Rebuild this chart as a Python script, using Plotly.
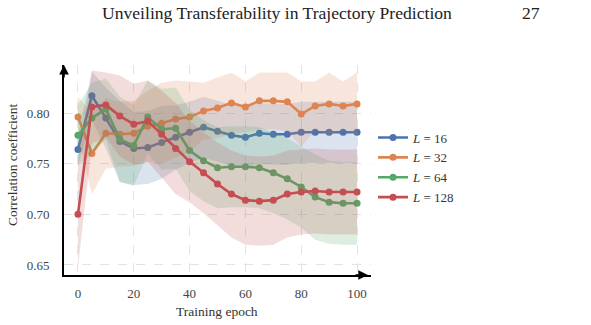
import plotly.graph_objects as go

epochs = [0, 5, 10, 15, 20, 25, 30, 35, 40, 45, 50, 55, 60, 65, 70, 75, 80, 85, 90, 95, 100]

l16 = [0.764, 0.817, 0.795, 0.772, 0.765, 0.766, 0.771, 0.776, 0.781, 0.786, 0.782, 0.778, 0.776, 0.780, 0.779, 0.779, 0.781, 0.781, 0.781, 0.781, 0.781]
l32 = [0.796, 0.760, 0.780, 0.779, 0.780, 0.787, 0.790, 0.794, 0.796, 0.802, 0.805, 0.810, 0.806, 0.812, 0.812, 0.811, 0.799, 0.807, 0.809, 0.807, 0.809]
l64 = [0.778, 0.795, 0.804, 0.774, 0.768, 0.796, 0.784, 0.785, 0.763, 0.753, 0.746, 0.747, 0.747, 0.746, 0.741, 0.735, 0.727, 0.717, 0.712, 0.711, 0.711]
l128 = [0.700, 0.806, 0.808, 0.797, 0.789, 0.792, 0.779, 0.765, 0.752, 0.741, 0.730, 0.720, 0.714, 0.713, 0.714, 0.720, 0.722, 0.723, 0.722, 0.722, 0.722]

sd16 = [0.015, 0.024, 0.030, 0.040, 0.036, 0.036, 0.036, 0.032, 0.030, 0.030, 0.030, 0.030, 0.030, 0.030, 0.030, 0.030, 0.030, 0.030, 0.030, 0.030, 0.030]
sd32 = [0.020, 0.040, 0.035, 0.032, 0.032, 0.035, 0.040, 0.038, 0.035, 0.028, 0.030, 0.030, 0.025, 0.028, 0.028, 0.029, 0.032, 0.024, 0.031, 0.024, 0.031]
sd64 = [0.030, 0.035, 0.030, 0.042, 0.040, 0.036, 0.040, 0.040, 0.040, 0.040, 0.040, 0.040, 0.040, 0.040, 0.040, 0.040, 0.040, 0.042, 0.041, 0.041, 0.041]
sd128 = [0.052, 0.036, 0.032, 0.040, 0.040, 0.040, 0.043, 0.045, 0.040, 0.040, 0.041, 0.043, 0.044, 0.044, 0.044, 0.043, 0.042, 0.042, 0.042, 0.042, 0.042]

labels = ["<i>L</i> = 16", "<i>L</i> = 32", "<i>L</i> = 64", "<i>L</i> = 128"]
colors = ["#4C72B0", "#DD8452", "#55A868", "#C44E52"]
fills = ["rgba(76,114,176,0.2)", "rgba(221,132,82,0.2)", "rgba(85,168,104,0.2)", "rgba(196,78,82,0.2)"]

x_ticks = [0, 20, 40, 60, 80, 100]
y_ticks = [0.65, 0.70, 0.75, 0.80]

FONT = "Liberation Serif"
L, R, T, B = 64, 220, 65, 50
PW, PH = 591 - L - R, 325 - T - B


def px(xp):
    return (xp - L) / PW


def py(yp):
    return (325 - B - yp) / PH


fig = go.Figure()
for mean, sd, lab, c, f in zip([l16, l32, l64, l128], [sd16, sd32, sd64, sd128], labels, colors, fills):
    upper = [m + s for m, s in zip(mean, sd)]
    lower = [m - s for m, s in zip(mean, sd)]
    fig.add_trace(go.Scatter(
        x=epochs + epochs[::-1], y=upper + lower[::-1],
        fill="toself", fillcolor=f, line=dict(width=0), mode="lines",
        hoverinfo="skip", showlegend=False))
    fig.add_trace(go.Scatter(
        x=epochs, y=mean, mode="lines+markers", name=lab,
        line=dict(color=c, width=2.6), marker=dict(color=c, size=7)))

fig.update_layout(
    width=591, height=325,
    margin=dict(l=L, r=R, t=T, b=B),
    paper_bgcolor="white", plot_bgcolor="white",
    font=dict(family=FONT, size=13, color="#444"),
    showlegend=True,
    legend=dict(x=px(373), y=py(167.5), xanchor="left", yanchor="middle",
                font=dict(family=FONT, size=13, color="#333"),
                tracegroupgap=0, itemwidth=30, bgcolor="rgba(0,0,0,0)"),
    xaxis=dict(range=[-5, 105], tickvals=x_ticks, ticktext=[str(v) for v in x_ticks],
               showgrid=True, gridcolor="#e3e3e3", griddash="dash", gridwidth=1,
               zeroline=False, showline=True, linecolor="black", linewidth=1.6,
               ticks="", ticklabelstandoff=6, tickfont=dict(size=13, color="#444"),
               automargin=False),
    yaxis=dict(range=[0.6401, 0.8474], tickvals=y_ticks, ticktext=["%.2f" % v for v in y_ticks],
               showgrid=True, gridcolor="#e3e3e3", griddash="dash", gridwidth=1,
               zeroline=False, showline=True, linecolor="black", linewidth=1.6,
               ticks="", ticklabelstandoff=10, tickfont=dict(size=13, color="#444"),
               automargin=False),
)

# axis titles
fig.add_annotation(x=px(217), y=py(311), xref="paper", yref="paper", showarrow=False,
                   xanchor="center", yanchor="middle", text="Training epoch",
                   font=dict(family=FONT, size=13.5, color="#333"))
fig.add_annotation(x=px(12), y=py(165), xref="paper", yref="paper", showarrow=False,
                   xanchor="center", yanchor="middle", textangle=-90, text="Correlation coefficient",
                   font=dict(family=FONT, size=13.5, color="#333"))

# axis arrows
fig.add_annotation(x=0, y=1.0, xref="paper", yref="paper", ax=0, ay=14, axref="pixel", ayref="pixel",
                   showarrow=True, arrowhead=2, arrowsize=1.2, arrowwidth=1.6, arrowcolor="black", text="")
fig.add_annotation(x=0.99, y=0, xref="paper", yref="paper", ax=-14, ay=0, axref="pixel", ayref="pixel",
                   showarrow=True, arrowhead=2, arrowsize=1.2, arrowwidth=1.6, arrowcolor="black", text="")

# page header
fig.add_annotation(x=px(100), y=py(13), xref="paper", yref="paper",
                   xanchor="left", yanchor="middle", showarrow=False,
                   text="Unveiling Transferability in Trajectory Prediction",
                   font=dict(family=FONT, size=17.6, color="#222"))
fig.add_annotation(x=px(542), y=py(13), xref="paper", yref="paper",
                   xanchor="right", yanchor="middle", showarrow=False,
                   text="27", font=dict(family=FONT, size=17.6, color="#222"))

fig.write_html("out.html")
